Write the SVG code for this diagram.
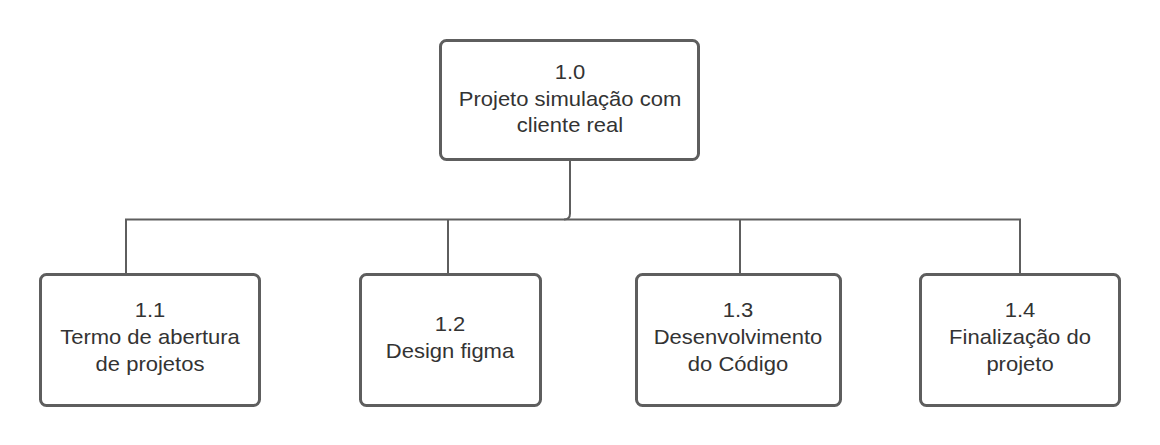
<svg xmlns="http://www.w3.org/2000/svg" width="1160" height="445" viewBox="0 0 1160 445">
<style>
.box{fill:#fff;stroke:#5e5e5e;stroke-width:3}
.lbl{font-family:"Liberation Sans",Arial,sans-serif;font-size:20px;fill:#333;text-anchor:middle}
.conn{fill:none;stroke:#5e5e5e;stroke-width:2}
</style>
<rect width="1160" height="445" fill="#fff"/>
<g id="connectors">
<path class="conn" d="M570,160 V213.5 Q570,219.5 564,219.5 H126 V274"/>
<path class="conn" d="M564,219.5 H1020 V274"/>
<path class="conn" d="M448,219.5 V274"/>
<path class="conn" d="M740,219.5 V274"/>
</g>
<g id="n10">
<rect class="box" x="440.5" y="40.5" width="258" height="119" rx="6"/>
<g class="lbl" transform="translate(570,0) scale(1.1,1)">
<text x="0" y="79">1.0</text>
<text x="0" y="106">Projeto simulação com</text>
<text x="0" y="132.5">cliente real</text>
</g>
</g>
<g id="n11">
<rect class="box" x="40.5" y="274.5" width="219" height="131" rx="6"/>
<g class="lbl" transform="translate(150,0) scale(1.1,1)">
<text x="0" y="317">1.1</text>
<text x="0" y="344">Termo de abertura</text>
<text x="0" y="371">de projetos</text>
</g>
</g>
<g id="n12">
<rect class="box" x="360.5" y="274.5" width="180" height="131" rx="6"/>
<g class="lbl" transform="translate(450,0) scale(1.1,1)">
<text x="0" y="331.5">1.2</text>
<text x="0" y="358">Design figma</text>
</g>
</g>
<g id="n13">
<rect class="box" x="636.5" y="274.5" width="204" height="131" rx="6"/>
<g class="lbl" transform="translate(738,0) scale(1.1,1)">
<text x="0" y="317">1.3</text>
<text x="0" y="344">Desenvolvimento</text>
<text x="0" y="371">do Código</text>
</g>
</g>
<g id="n14">
<rect class="box" x="920.5" y="274.5" width="199" height="131" rx="6"/>
<g class="lbl" transform="translate(1020,0) scale(1.1,1)">
<text x="0" y="317">1.4</text>
<text x="0" y="344">Finalização do</text>
<text x="0" y="371">projeto</text>
</g>
</g>
</svg>
